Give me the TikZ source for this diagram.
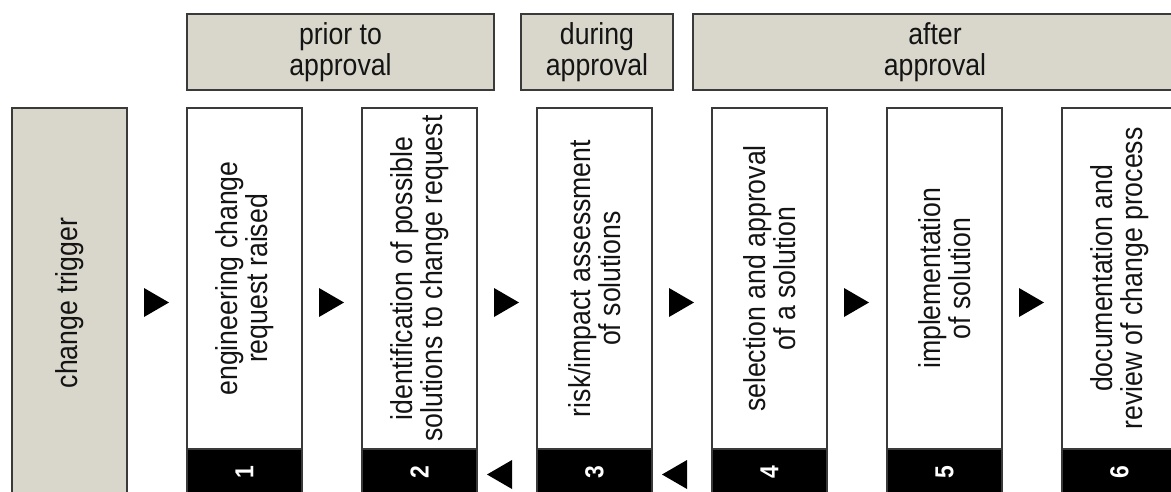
\documentclass[tikz,border=0pt]{standalone}
\usepackage{fontspec}
\setmainfont{Liberation Sans}[FakeStretch=0.88]
\definecolor{hdr}{HTML}{D9D7CB}
\definecolor{edge}{HTML}{3A3A3A}
\definecolor{ink}{HTML}{141414}
\tikzset{
  frame/.style={draw=edge, line width=1.4pt, inner sep=0pt, outer sep=0pt},
  hdrbox/.style={frame, fill=hdr, minimum height=76pt, text=ink, align=center,
    font=\fontsize{30.3}{30.5}\selectfont},
  colbox/.style={frame, fill=white, minimum width=115pt, minimum height=341pt},
  band/.style={frame, fill=black, minimum width=115pt, minimum height=48pt},
  lbl/.style={rotate=90, align=center, text=ink, inner sep=0pt,
    font=\fontsize{30.3}{30.5}\selectfont},
  num/.style={rotate=90, text=white, inner sep=0pt,
    font=\fontsize{26}{26}\selectfont\bfseries},
  tri/.style={fill=black}
}
\begin{document}
\begin{tikzpicture}[x=1pt,y=-1pt]
\clip (0,0) rectangle (1171,491);
\fill[white] (0,0) rectangle (1171,491);
% headers
\node[hdrbox, minimum width=307pt] (h1) at (340.5,52) {prior to\\approval};
\node[hdrbox, minimum width=152pt] (h2) at (597,52) {during\\approval};
\node[hdrbox, minimum width=484pt] (h3) at (935,52) {after\\approval};
% trigger
\node[frame, fill=hdr, minimum width=115pt, minimum height=390pt] (trig) at (69.5,303) {};
\node[lbl] (trigt) at (trig.center) {change trigger};
% columns
\foreach \i/\t in {1/{engineering change\\request raised},
                   2/{identification of possible\\solutions to change request},
                   3/{risk/impact assessment\\of solutions},
                   4/{selection and approval\\of a solution},
                   5/{implementation\\of solution},
                   6/{documentation and\\review of change process}}{
  \pgfmathsetmacro{\cx}{244.5+175*(\i-1)}
  \node[band] (n\i) at (\cx,473) {};
  \node[colbox] (c\i) at (\cx,278.5) {};
  \node[lbl] (t\i) at (c\i.center) {\t};
  \node[num] (d\i) at (\cx,472) {\i};
}
% forward triangles
\foreach \k in {0,...,5}{
  \pgfmathsetmacro{\r}{127+175*\k}
  \fill[tri] (\r+17,288) -- (\r+42,302.5) -- (\r+17,317) -- cycle;
}
% backward triangles
\foreach \r in {476,651}{
  \fill[tri] (\r+11,474.5) -- (\r+36,460) -- (\r+36,489) -- cycle;
}
\end{tikzpicture}
\end{document}
